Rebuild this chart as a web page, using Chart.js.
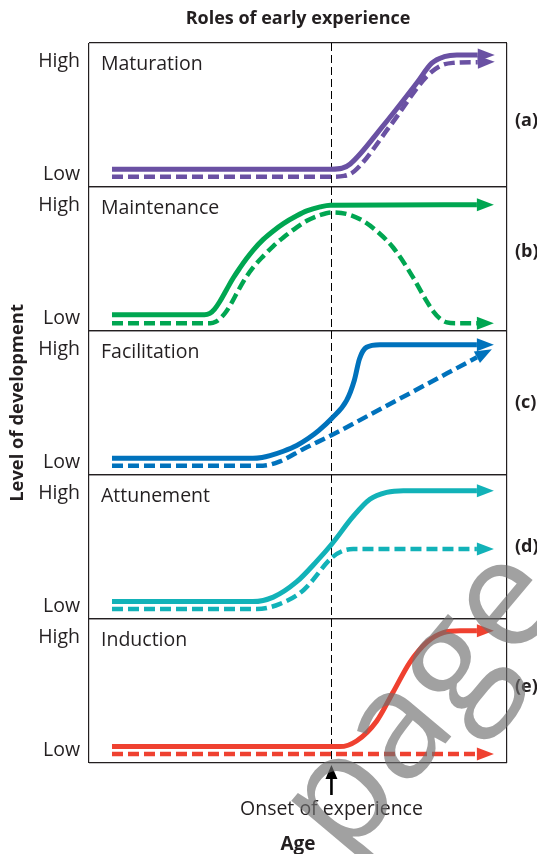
<!DOCTYPE html>
<html>
<head>
<meta charset="utf-8">
<script src="https://cdn.jsdelivr.net/npm/chart.js@4.4.1/dist/chart.umd.min.js"></script>
<style>
  html, body { margin: 0; padding: 0; background: #fff; }
  canvas { display: block; }
</style>
</head>
<body>
<canvas id="chart" width="537" height="854"></canvas>
<script>
// Roles of early experience: five stacked panels, solid = with experience, dashed = without

var panelNames = ['Maturation', 'Maintenance', 'Facilitation', 'Attunement', 'Induction'];
var panelTags = ['(a)', '(b)', '(c)', '(d)', '(e)'];
var panelColors = ['#6a51a3', '#00a651', '#0072bc', '#12b2b8', '#ef4130'];
var yTickValues = [0.09, 0.875];
var yTickLabels = ['Low', 'High'];
var onset = 58;
var onsetLabel = 'Onset of experience';

// [age, level] pairs, age 0-100, level 0-1 within each panel
var maturationSolid = [[5.5,0.124],[58,0.124],[60.5,0.13],[62.5,0.16],[70.3,0.423],[78.4,0.722],[82,0.86],[85,0.905],[88,0.917],[93,0.917]];
var maturationDashed = [[5.5,0.071],[58,0.071],[61,0.077],[63.5,0.11],[72,0.423],[80.8,0.768],[84,0.84],[87,0.862],[93,0.867]];

var maintenanceSolid = [[5.5,0.112],[27.6,0.112],[28.9,0.122],[30,0.15],[31.3,0.205],[32.9,0.287],[34.5,0.368],[36.1,0.438],[37.7,0.503],[39.3,0.562],[41.7,0.636],[44.1,0.695],[46.5,0.746],[49.7,0.80],[52.1,0.834],[55.3,0.862],[57.7,0.874],[92.8,0.876]];
var maintenanceDashed = [[5.5,0.054],[29,0.054],[30.3,0.064],[31.5,0.09],[32.7,0.13],[34,0.19],[35.5,0.27],[37.5,0.37],[39.5,0.45],[41.7,0.52],[44.1,0.59],[46.5,0.65],[49.7,0.72],[52.1,0.765],[55.3,0.805],[58.1,0.823],[62,0.81],[65.6,0.764],[69,0.69],[72.8,0.578],[77.6,0.369],[80.5,0.22],[82.4,0.135],[84,0.085],[85.6,0.06],[88,0.054],[92.8,0.054]];

var facilitationSolid = [[5.5,0.116],[39.2,0.116],[41.4,0.122],[43.3,0.135],[46.5,0.165],[49.7,0.205],[52.5,0.255],[55,0.31],[58.1,0.394],[61.6,0.516],[63.5,0.66],[64.7,0.806],[66.4,0.887],[69.6,0.905],[92.8,0.905]];
var facilitationDashed = [[5.5,0.065],[41.6,0.065],[45.7,0.095],[51.3,0.181],[58.1,0.278],[71.2,0.481],[92.8,0.817]];

var attunementSolid = [[5.5,0.121],[39.2,0.121],[44.1,0.152],[49.7,0.259],[54.5,0.402],[58.1,0.521],[63.2,0.712],[67.2,0.831],[71.2,0.879],[75.2,0.891],[92.8,0.891]];
var attunementDashed = [[5.5,0.069],[40.1,0.069],[45.7,0.105],[51.3,0.2],[58.1,0.426],[60.8,0.474],[63.2,0.486],[92.8,0.486]];

var inductionSolid = [[5.5,0.114],[60,0.114],[64,0.153],[68.8,0.29],[72.8,0.495],[76.8,0.701],[80.8,0.838],[84.8,0.906],[88.8,0.918],[92.8,0.918]];
var inductionDashed = [[5.5,0.062],[92.8,0.062]];

var solidSeries = [maturationSolid, maintenanceSolid, facilitationSolid, attunementSolid, inductionSolid];
var dashedSeries = [maturationDashed, maintenanceDashed, facilitationDashed, attunementDashed, inductionDashed];
var axisIds = ['yA', 'yB', 'yC', 'yD', 'yE'];

var ink = '#231f20';
var fam = '"Open Sans", "Noto Sans", sans-serif';

var datasets = [];
for (var i = 0; i < 5; i++) {
  datasets.push({
    label: panelNames[i] + ' with experience',
    data: solidSeries[i],
    yAxisID: axisIds[i],
    borderColor: panelColors[i],
    borderWidth: 5,
    pointRadius: 0,
    cubicInterpolationMode: 'monotone',
    borderJoinStyle: 'round'
  });
  datasets.push({
    label: panelNames[i] + ' without experience',
    data: dashedSeries[i],
    yAxisID: axisIds[i],
    borderColor: panelColors[i],
    borderWidth: 4.5,
    borderDash: [11, 5],
    pointRadius: 0,
    cubicInterpolationMode: 'monotone'
  });
}

function panelAxis(i) {
  return {
    type: 'linear',
    min: 0,
    max: 1,
    position: 'left',
    stack: 'panels',
    stackWeight: 1,
    afterBuildTicks: function (s) {
      s.ticks = [{value: 0}, {value: yTickValues[0]}, {value: yTickValues[1]}, {value: 1}];
    },
    afterFit: function (s) { s.width = 89; },
    ticks: {
      autoSkip: false,
      padding: 9,
      color: ink,
      font: {family: fam, size: 19.5},
      callback: function (v) {
        var k = yTickValues.indexOf(v);
        return k < 0 ? '' : yTickLabels[k];
      }
    },
    grid: {
      drawTicks: false,
      lineWidth: 1.2,
      color: function (c) {
        return c.tick && (c.tick.value === 0 || c.tick.value === 1) ? ink : 'rgba(0,0,0,0)';
      }
    },
    border: {display: false},
    title: {
      display: i === 2,
      text: 'Level of development',
      color: ink,
      font: {family: fam, size: 18.4, weight: 'bold'},
      padding: {top: 7, bottom: 0}
    }
  };
}

var scales = {
  x: {
    type: 'linear',
    min: 0,
    max: 100,
    position: 'bottom',
    afterBuildTicks: function (s) {
      s.ticks = [{value: 0}, {value: onset}, {value: 100}];
    },
    afterFit: function (s) {
      s.height = 91;
      s.paddingLeft = 0;
      s.paddingRight = 0;
    },
    ticks: {
      autoSkip: false,
      maxRotation: 0,
      padding: 35,
      color: ink,
      font: {family: fam, size: 19.5},
      callback: function (v) { return v === onset ? onsetLabel : ''; }
    },
    grid: {
      drawTicks: false,
      lineWidth: 1.2,
      color: function (c) {
        return c.tick && c.tick.value === onset ? 'rgba(0,0,0,0)' : ink;
      }
    },
    border: {display: false},
    title: {
      display: true,
      text: 'Age',
      color: ink,
      font: {family: fam, size: 19, weight: 'bold'},
      padding: {top: 0, bottom: -2}
    }
  }
};
// later axes end up higher in the stack
for (var j = 4; j >= 0; j--) scales[axisIds[j]] = panelAxis(j);

var tagShift = [6, -7, 0, 0, -4];

var decor = {
  id: 'decor',
  beforeDatasetsDraw: function (chart) {
    var ctx = chart.ctx, a = chart.chartArea;
    var px = Math.round(chart.scales.x.getPixelForValue(onset)) + 0.5;
    ctx.save();
    ctx.strokeStyle = '#000';
    ctx.lineWidth = 1;
    ctx.setLineDash([8, 4]);
    ctx.beginPath();
    ctx.moveTo(px, a.top);
    ctx.lineTo(px, a.bottom);
    ctx.stroke();
    ctx.restore();
  },
  afterDatasetsDraw: function (chart) {
    var ctx = chart.ctx;
    chart.data.datasets.forEach(function (ds, k) {
      var pts = chart.getDatasetMeta(k).data;
      var p1 = pts[pts.length - 1], p0 = pts[pts.length - 2];
      var ang = Math.atan2(p1.y - p0.y, p1.x - p0.x);
      var len = 17, half = 6.5;
      ctx.save();
      ctx.translate(p1.x, p1.y);
      ctx.rotate(ang);
      ctx.fillStyle = ds.borderColor;
      ctx.beginPath();
      ctx.moveTo(len, 0);
      ctx.lineTo(0, -half);
      ctx.lineTo(0, half);
      ctx.closePath();
      ctx.fill();
      ctx.restore();
    });
  },
  afterDraw: function (chart) {
    var ctx = chart.ctx, a = chart.chartArea;
    ctx.save();
    ctx.fillStyle = ink;
    ctx.textBaseline = 'middle';
    for (var i = 0; i < 5; i++) {
      var s = chart.scales[axisIds[i]];
      ctx.font = '19.5px ' + fam;
      ctx.textAlign = 'left';
      ctx.fillText(panelNames[i], a.left + 12, s.top + 21);
      ctx.font = 'bold 18px ' + fam;
      ctx.fillText(panelTags[i], 515, (s.top + s.bottom) / 2 + tagShift[i]);
    }
    // onset arrow
    var px = chart.scales.x.getPixelForValue(onset);
    ctx.strokeStyle = '#000';
    ctx.fillStyle = '#000';
    ctx.lineWidth = 2.6;
    ctx.beginPath();
    ctx.moveTo(px, 795);
    ctx.lineTo(px, a.bottom + 12);
    ctx.stroke();
    ctx.beginPath();
    ctx.moveTo(px, a.bottom + 2);
    ctx.lineTo(px - 6, a.bottom + 16);
    ctx.lineTo(px + 6, a.bottom + 16);
    ctx.closePath();
    ctx.fill();
    // watermark
    ctx.translate(423, 703);
    ctx.rotate(-50 * Math.PI / 180);
    ctx.font = '152px ' + fam;
    ctx.textAlign = 'center';
    ctx.fillStyle = 'rgba(110,110,110,0.65)';
    ctx.fillText('page', 0, 0);
    ctx.restore();
  }
};

new Chart('chart', {
  type: 'line',
  data: {datasets: datasets},
  options: {
    responsive: false,
    animation: false,
    devicePixelRatio: 1,
    layout: {padding: {left: 0, right: 30, top: 0, bottom: 0}},
    scales: scales,
    plugins: {
      legend: {display: false},
      tooltip: {enabled: false},
      title: {
        display: true,
        text: 'Roles of early experience',
        fullSize: false,
        color: ink,
        font: {family: fam, size: 18, weight: 'bold'},
        padding: {top: 8, bottom: 13.4}
      }
    }
  },
  plugins: [decor]
});
</script>
</body>
</html>
